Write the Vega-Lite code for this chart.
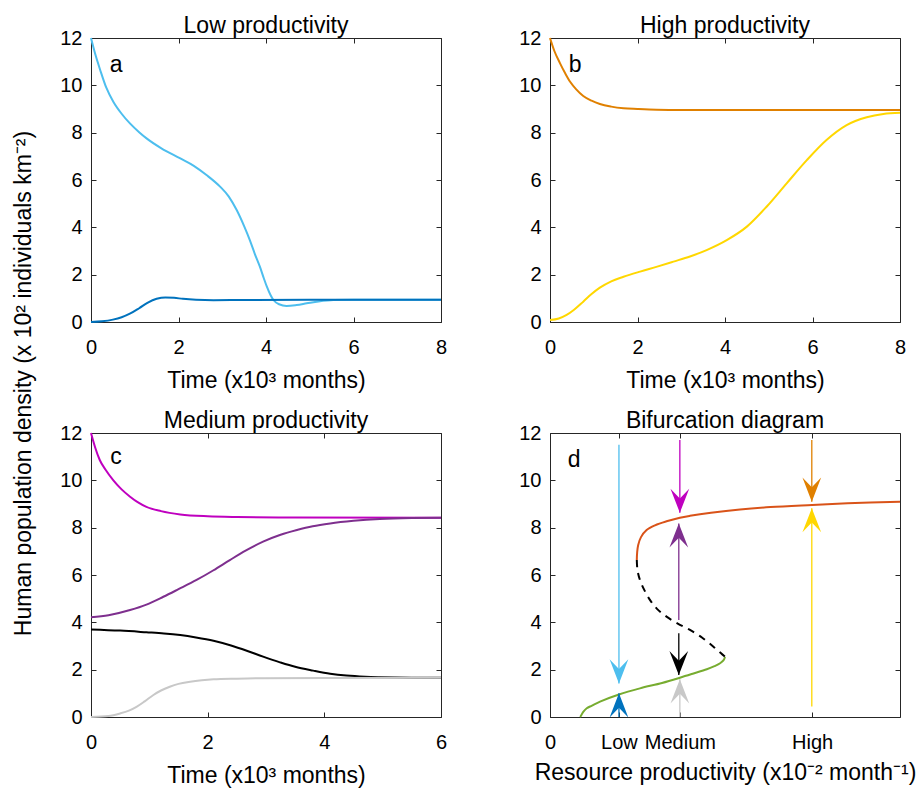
{
  "$schema": "https://vega.github.io/schema/vega-lite/v6.json",
  "padding": {"left": 11, "top": 14, "right": 5, "bottom": 5},
  "background": "white",
  "config": {
    "font": "Liberation Sans",
    "view": {"stroke": "#262626", "strokeWidth": 1},
    "axis": {"tickSize": -5, "labelPadding": 14, "grid": false, "domain": false, "labelFontSize": 20, "titleFontSize": 23, "titleFontWeight": "normal", "labelColor": "#000000", "titleColor": "#000000", "tickColor": "#262626", "labelFlush": false, "labelOverlap": false, "titleBaseline": "alphabetic"},
    "axisBottom": {"labelBaseline": "alphabetic", "labelPadding": 36},
    "title": {"fontSize": 23, "fontWeight": "normal", "offset": -10, "baseline": "alphabetic", "frame": "group", "anchor": "middle", "color": "#000000"}
  },
  "datasets": {
    "a": [
      {"s":"low_hi","t":0,"v":12},{"s":"low_hi","t":0.1,"v":11.3},{"s":"low_hi","t":0.21,"v":10.65},{"s":"low_hi","t":0.35,"v":9.9},{"s":"low_hi","t":0.51,"v":9.31},{"s":"low_hi","t":0.7,"v":8.8},{"s":"low_hi","t":0.89,"v":8.39},{"s":"low_hi","t":1.1,"v":8.02},{"s":"low_hi","t":1.27,"v":7.76},{"s":"low_hi","t":1.6,"v":7.35},{"s":"low_hi","t":2.03,"v":6.92},{"s":"low_hi","t":2.35,"v":6.6},{"s":"low_hi","t":2.64,"v":6.21},{"s":"low_hi","t":2.95,"v":5.72},{"s":"low_hi","t":3.15,"v":5.3},{"s":"low_hi","t":3.33,"v":4.73},{"s":"low_hi","t":3.5,"v":4.05},{"s":"low_hi","t":3.63,"v":3.46},{"s":"low_hi","t":3.75,"v":2.85},{"s":"low_hi","t":3.86,"v":2.34},{"s":"low_hi","t":3.95,"v":1.85},{"s":"low_hi","t":4.02,"v":1.49},{"s":"low_hi","t":4.1,"v":1.15},{"s":"low_hi","t":4.17,"v":0.93},{"s":"low_hi","t":4.3,"v":0.75},{"s":"low_hi","t":4.47,"v":0.68},{"s":"low_hi","t":4.7,"v":0.72},{"s":"low_hi","t":4.93,"v":0.79},{"s":"low_hi","t":5.2,"v":0.87},{"s":"low_hi","t":5.54,"v":0.93},{"s":"low_hi","t":6,"v":0.94},{"s":"low_hi","t":7,"v":0.94},{"s":"low_hi","t":8,"v":0.94},
      {"s":"low_lo","t":0,"v":0},{"s":"low_lo","t":0.25,"v":0.03},{"s":"low_lo","t":0.5,"v":0.1},{"s":"low_lo","t":0.7,"v":0.2},{"s":"low_lo","t":0.9,"v":0.36},{"s":"low_lo","t":1.1,"v":0.58},{"s":"low_lo","t":1.3,"v":0.82},{"s":"low_lo","t":1.5,"v":0.98},{"s":"low_lo","t":1.7,"v":1.04},{"s":"low_lo","t":1.9,"v":1.02},{"s":"low_lo","t":2.1,"v":0.98},{"s":"low_lo","t":2.4,"v":0.94},{"s":"low_lo","t":2.8,"v":0.92},{"s":"low_lo","t":3.5,"v":0.93},{"s":"low_lo","t":5,"v":0.94},{"s":"low_lo","t":8,"v":0.94}
    ],
    "b": [
      {"s":"high_hi","t":0,"v":12},{"s":"high_hi","t":0.1,"v":11.45},{"s":"high_hi","t":0.23,"v":10.93},{"s":"high_hi","t":0.35,"v":10.5},{"s":"high_hi","t":0.46,"v":10.15},{"s":"high_hi","t":0.6,"v":9.83},{"s":"high_hi","t":0.76,"v":9.55},{"s":"high_hi","t":0.95,"v":9.35},{"s":"high_hi","t":1.14,"v":9.21},{"s":"high_hi","t":1.4,"v":9.1},{"s":"high_hi","t":1.68,"v":9.03},{"s":"high_hi","t":2,"v":9.0},{"s":"high_hi","t":2.44,"v":8.97},{"s":"high_hi","t":3,"v":8.96},{"s":"high_hi","t":8,"v":8.96},
      {"s":"high_lo","t":0,"v":0.08},{"s":"high_lo","t":0.2,"v":0.15},{"s":"high_lo","t":0.38,"v":0.3},{"s":"high_lo","t":0.55,"v":0.52},{"s":"high_lo","t":0.76,"v":0.86},{"s":"high_lo","t":0.95,"v":1.18},{"s":"high_lo","t":1.14,"v":1.45},{"s":"high_lo","t":1.4,"v":1.72},{"s":"high_lo","t":1.68,"v":1.91},{"s":"high_lo","t":2.06,"v":2.13},{"s":"high_lo","t":2.45,"v":2.34},{"s":"high_lo","t":2.82,"v":2.55},{"s":"high_lo","t":3.2,"v":2.77},{"s":"high_lo","t":3.58,"v":3.04},{"s":"high_lo","t":4.04,"v":3.46},{"s":"high_lo","t":4.5,"v":4.03},{"s":"high_lo","t":4.95,"v":4.87},{"s":"high_lo","t":5.41,"v":5.86},{"s":"high_lo","t":5.87,"v":6.84},{"s":"high_lo","t":6.32,"v":7.69},{"s":"high_lo","t":6.78,"v":8.32},{"s":"high_lo","t":7.24,"v":8.65},{"s":"high_lo","t":7.62,"v":8.79},{"s":"high_lo","t":8,"v":8.84}
    ],
    "c": [
      {"s":"med_a","t":0,"v":12},{"s":"med_a","t":0.07,"v":11.4},{"s":"med_a","t":0.15,"v":10.86},{"s":"med_a","t":0.25,"v":10.45},{"s":"med_a","t":0.38,"v":10.01},{"s":"med_a","t":0.52,"v":9.63},{"s":"med_a","t":0.67,"v":9.31},{"s":"med_a","t":0.8,"v":9.08},{"s":"med_a","t":0.95,"v":8.88},{"s":"med_a","t":1.2,"v":8.7},{"s":"med_a","t":1.53,"v":8.56},{"s":"med_a","t":2,"v":8.48},{"s":"med_a","t":2.5,"v":8.45},{"s":"med_a","t":3.5,"v":8.43},{"s":"med_a","t":6,"v":8.42},
      {"s":"med_b","t":0,"v":4.21},{"s":"med_b","t":0.3,"v":4.3},{"s":"med_b","t":0.67,"v":4.52},{"s":"med_b","t":0.95,"v":4.75},{"s":"med_b","t":1.24,"v":5.08},{"s":"med_b","t":1.5,"v":5.4},{"s":"med_b","t":1.81,"v":5.79},{"s":"med_b","t":2.1,"v":6.2},{"s":"med_b","t":2.38,"v":6.63},{"s":"med_b","t":2.65,"v":7.03},{"s":"med_b","t":2.95,"v":7.41},{"s":"med_b","t":3.25,"v":7.7},{"s":"med_b","t":3.53,"v":7.9},{"s":"med_b","t":3.8,"v":8.06},{"s":"med_b","t":4.1,"v":8.18},{"s":"med_b","t":4.5,"v":8.29},{"s":"med_b","t":4.95,"v":8.37},{"s":"med_b","t":5.5,"v":8.41},{"s":"med_b","t":6,"v":8.42},
      {"s":"med_c","t":0,"v":3.7},{"s":"med_c","t":0.5,"v":3.65},{"s":"med_c","t":0.95,"v":3.58},{"s":"med_c","t":1.25,"v":3.53},{"s":"med_c","t":1.53,"v":3.46},{"s":"med_c","t":1.8,"v":3.36},{"s":"med_c","t":2.1,"v":3.22},{"s":"med_c","t":2.4,"v":3.02},{"s":"med_c","t":2.67,"v":2.8},{"s":"med_c","t":2.95,"v":2.55},{"s":"med_c","t":3.24,"v":2.31},{"s":"med_c","t":3.5,"v":2.12},{"s":"med_c","t":3.81,"v":1.96},{"s":"med_c","t":4.1,"v":1.83},{"s":"med_c","t":4.38,"v":1.75},{"s":"med_c","t":4.7,"v":1.7},{"s":"med_c","t":4.95,"v":1.68},{"s":"med_c","t":5.5,"v":1.66},{"s":"med_c","t":6,"v":1.66},
      {"s":"med_d","t":0,"v":0},{"s":"med_d","t":0.3,"v":0.04},{"s":"med_d","t":0.5,"v":0.15},{"s":"med_d","t":0.65,"v":0.27},{"s":"med_d","t":0.78,"v":0.43},{"s":"med_d","t":0.92,"v":0.66},{"s":"med_d","t":1.07,"v":0.93},{"s":"med_d","t":1.2,"v":1.12},{"s":"med_d","t":1.35,"v":1.28},{"s":"med_d","t":1.5,"v":1.4},{"s":"med_d","t":1.7,"v":1.49},{"s":"med_d","t":1.9,"v":1.55},{"s":"med_d","t":2.1,"v":1.59},{"s":"med_d","t":2.5,"v":1.62},{"s":"med_d","t":2.95,"v":1.64},{"s":"med_d","t":4,"v":1.65},{"s":"med_d","t":6,"v":1.66}
    ],
    "dcurve": [
      {"s":"upper","i":0,"x":2.48,"v":6.63},{"s":"upper","i":1,"x":2.49,"v":6.95},{"s":"upper","i":2,"x":2.52,"v":7.27},{"s":"upper","i":3,"x":2.6,"v":7.6},{"s":"upper","i":4,"x":2.76,"v":7.9},{"s":"upper","i":5,"x":3.0,"v":8.1},{"s":"upper","i":6,"x":3.33,"v":8.27},{"s":"upper","i":7,"x":3.71,"v":8.42},{"s":"upper","i":8,"x":4.0,"v":8.5},{"s":"upper","i":9,"x":4.6,"v":8.63},{"s":"upper","i":10,"x":5.43,"v":8.77},{"s":"upper","i":11,"x":6.3,"v":8.87},{"s":"upper","i":12,"x":7.49,"v":8.96},{"s":"upper","i":13,"x":8.5,"v":9.03},{"s":"upper","i":14,"x":10,"v":9.1},
      {"s":"unstable","i":0,"x":2.48,"v":6.63},{"s":"unstable","i":1,"x":2.5,"v":6.2},{"s":"unstable","i":2,"x":2.57,"v":5.79},{"s":"unstable","i":3,"x":2.7,"v":5.35},{"s":"unstable","i":4,"x":2.86,"v":4.94},{"s":"unstable","i":5,"x":3.05,"v":4.58},{"s":"unstable","i":6,"x":3.33,"v":4.24},{"s":"unstable","i":7,"x":3.65,"v":3.95},{"s":"unstable","i":8,"x":4.0,"v":3.68},{"s":"unstable","i":9,"x":4.35,"v":3.35},{"s":"unstable","i":10,"x":4.67,"v":2.97},{"s":"unstable","i":11,"x":4.88,"v":2.7},{"s":"unstable","i":12,"x":5.0,"v":2.55},
      {"s":"lower","i":0,"x":5.0,"v":2.55},{"s":"lower","i":1,"x":4.96,"v":2.4},{"s":"lower","i":2,"x":4.86,"v":2.27},{"s":"lower","i":3,"x":4.7,"v":2.15},{"s":"lower","i":4,"x":4.48,"v":2.02},{"s":"lower","i":5,"x":4.1,"v":1.84},{"s":"lower","i":6,"x":3.71,"v":1.66},{"s":"lower","i":7,"x":3.2,"v":1.44},{"s":"lower","i":8,"x":2.57,"v":1.21},{"s":"lower","i":9,"x":1.97,"v":0.95},{"s":"lower","i":10,"x":1.43,"v":0.65},{"s":"lower","i":11,"x":1.2,"v":0.48},{"s":"lower","i":12,"x":1.05,"v":0.37},{"s":"lower","i":13,"x":0.95,"v":0.22},{"s":"lower","i":14,"x":0.88,"v":0.04},{"s":"lower","i":15,"x":0.86,"v":0}
    ],
    "darrows": [
      {"s":"low_hi","x":1.97,"y1":11.5,"y2":1.42,"dir":"down"},
      {"s":"low_lo","x":1.97,"y1":0,"y2":1.0,"dir":"up"},
      {"s":"med_a","x":3.71,"y1":11.7,"y2":8.63,"dir":"down"},
      {"s":"med_b","x":3.68,"y1":4.1,"y2":8.18,"dir":"up"},
      {"s":"med_c","x":3.68,"y1":3.54,"y2":1.77,"dir":"down"},
      {"s":"med_d","x":3.71,"y1":0,"y2":1.59,"dir":"up"},
      {"s":"high_hi","x":7.48,"y1":11.7,"y2":9.1,"dir":"down"},
      {"s":"high_lo","x":7.48,"y1":0.44,"y2":8.82,"dir":"up"}
    ]
  },
  "concat": [
    {
      "width": 350, "height": 284,
      "title": {"text": "Low productivity"},
      "layer": [
        {"data": {"name": "a"}, "mark": {"type": "line", "strokeWidth": 2, "interpolate": "monotone"},
         "encoding": {
           "x": {"field": "t", "type": "quantitative", "scale": {"domain": [0, 8], "nice": false, "zero": false}, "axis": {"orient": "bottom", "values": [0,2,4,6,8], "title": "Time (x10³ months)", "titleY": 65}},
           "y": {"field": "v", "type": "quantitative", "scale": {"domain": [0, 12], "nice": false}, "axis": {"orient": "left", "values": [0,2,4,6,8,10,12], "title": "Human population density (x 10² individuals km⁻²)", "titleX": -61, "titleY": 345, "titleAngle": -90, "titleAlign": "center"}},
           "color": {"field": "s", "type": "nominal", "legend": null, "scale": {"domain": ["low_hi","low_lo","high_hi","high_lo","med_a","med_b","med_c","med_d","upper","unstable","lower"], "range": ["#4DBEEE","#0072BD","#E08000","#FFD700","#BF00BF","#7E2F8E","#000000","#C8C8C8","#D95319","#000000","#77AC30"]}}
         }},
        {"data": {"values": [{"t": 0.43, "v": 10.56, "lab": "a"}]}, "mark": {"type": "text", "align": "left", "baseline": "alphabetic", "fontSize": 23, "color": "#000000"},
         "encoding": {
           "x": {"field": "t", "type": "quantitative", "scale": {"domain": [0, 8], "nice": false, "zero": false}, "axis": {"orient": "top", "values": [0,2,4,6,8], "labels": false, "title": null}},
           "y": {"field": "v", "type": "quantitative", "scale": {"domain": [0, 12], "nice": false}, "axis": {"orient": "right", "values": [0,2,4,6,8,10,12], "labels": false, "title": null}},
           "text": {"field": "lab"}
         }}
      ]
    },
    {
      "width": 350, "height": 284,
      "title": {"text": "High productivity"},
      "layer": [
        {"data": {"name": "b"}, "mark": {"type": "line", "strokeWidth": 2, "interpolate": "monotone"},
         "encoding": {
           "x": {"field": "t", "type": "quantitative", "scale": {"domain": [0, 8], "nice": false, "zero": false}, "axis": {"orient": "bottom", "values": [0,2,4,6,8], "title": "Time (x10³ months)", "titleY": 65}},
           "y": {"field": "v", "type": "quantitative", "scale": {"domain": [0, 12], "nice": false}, "axis": {"orient": "left", "values": [0,2,4,6,8,10,12], "title": null}},
           "color": {"field": "s", "type": "nominal", "legend": null, "scale": {"domain": ["low_hi","low_lo","high_hi","high_lo","med_a","med_b","med_c","med_d","upper","unstable","lower"], "range": ["#4DBEEE","#0072BD","#E08000","#FFD700","#BF00BF","#7E2F8E","#000000","#C8C8C8","#D95319","#000000","#77AC30"]}}
         }},
        {"data": {"values": [{"t": 0.43, "v": 10.56, "lab": "b"}]}, "mark": {"type": "text", "align": "left", "baseline": "alphabetic", "fontSize": 23, "color": "#000000"},
         "encoding": {
           "x": {"field": "t", "type": "quantitative", "scale": {"domain": [0, 8], "nice": false, "zero": false}, "axis": {"orient": "top", "values": [0,2,4,6,8], "labels": false, "title": null}},
           "y": {"field": "v", "type": "quantitative", "scale": {"domain": [0, 12], "nice": false}, "axis": {"orient": "right", "values": [0,2,4,6,8,10,12], "labels": false, "title": null}},
           "text": {"field": "lab"}
         }}
      ]
    },
    {
      "width": 350, "height": 284,
      "title": {"text": "Medium productivity"},
      "layer": [
        {"data": {"name": "c"}, "mark": {"type": "line", "strokeWidth": 2, "interpolate": "monotone"},
         "encoding": {
           "x": {"field": "t", "type": "quantitative", "scale": {"domain": [0, 6], "nice": false, "zero": false}, "axis": {"orient": "bottom", "values": [0,2,4,6], "title": "Time (x10³ months)", "titleY": 65}},
           "y": {"field": "v", "type": "quantitative", "scale": {"domain": [0, 12], "nice": false}, "axis": {"orient": "left", "values": [0,2,4,6,8,10,12], "title": null}},
           "color": {"field": "s", "type": "nominal", "legend": null, "scale": {"domain": ["low_hi","low_lo","high_hi","high_lo","med_a","med_b","med_c","med_d","upper","unstable","lower"], "range": ["#4DBEEE","#0072BD","#E08000","#FFD700","#BF00BF","#7E2F8E","#000000","#C8C8C8","#D95319","#000000","#77AC30"]}}
         }},
        {"data": {"values": [{"t": 0.33, "v": 10.7, "lab": "c"}]}, "mark": {"type": "text", "align": "left", "baseline": "alphabetic", "fontSize": 23, "color": "#000000"},
         "encoding": {
           "x": {"field": "t", "type": "quantitative", "scale": {"domain": [0, 6], "nice": false, "zero": false}, "axis": {"orient": "top", "values": [0,2,4,6], "labels": false, "title": null}},
           "y": {"field": "v", "type": "quantitative", "scale": {"domain": [0, 12], "nice": false}, "axis": {"orient": "right", "values": [0,2,4,6,8,10,12], "labels": false, "title": null}},
           "text": {"field": "lab"}
         }}
      ]
    },
    {
      "width": 350, "height": 284,
      "title": {"text": "Bifurcation diagram"},
      "layer": [
        {"data": {"name": "dcurve"}, "transform": [{"filter": "datum.s != 'unstable'"}], "mark": {"type": "line", "strokeWidth": 2, "interpolate": "catmull-rom"},
         "encoding": {
           "x": {"field": "x", "type": "quantitative", "scale": {"domain": [0, 10], "nice": false, "zero": false}, "axis": {"orient": "bottom", "values": [0, 1.97, 3.71, 7.49], "labelExpr": "datum.value == 0 ? '0' : datum.value < 2.5 ? 'Low' : datum.value < 5 ? 'Medium' : 'High'", "title": "Resource productivity (x10⁻² month⁻¹)", "titleY": 62}},
           "y": {"field": "v", "type": "quantitative", "scale": {"domain": [0, 12], "nice": false}, "axis": {"orient": "left", "values": [0,2,4,6,8,10,12], "title": null}},
           "order": {"field": "i", "type": "quantitative"},
           "color": {"field": "s", "type": "nominal", "legend": null, "scale": {"domain": ["low_hi","low_lo","high_hi","high_lo","med_a","med_b","med_c","med_d","upper","unstable","lower"], "range": ["#4DBEEE","#0072BD","#E08000","#FFD700","#BF00BF","#7E2F8E","#000000","#C8C8C8","#D95319","#000000","#77AC30"]}}
         }},
        {"data": {"name": "dcurve"}, "transform": [{"filter": "datum.s == 'unstable'"}], "mark": {"type": "line", "strokeWidth": 2, "strokeDash": [7, 6], "color": "#000000", "interpolate": "catmull-rom"},
         "encoding": {
           "x": {"field": "x", "type": "quantitative", "axis": null},
           "y": {"field": "v", "type": "quantitative", "axis": null},
           "order": {"field": "i", "type": "quantitative"}
         }},
        {"data": {"name": "darrows"}, "mark": {"type": "rule", "strokeWidth": 1.3},
         "encoding": {
           "x": {"field": "x", "type": "quantitative", "axis": null},
           "y": {"field": "y1", "type": "quantitative", "axis": null},
           "y2": {"field": "y2"},
           "color": {"field": "s", "type": "nominal", "legend": null, "scale": {"domain": ["low_hi","low_lo","high_hi","high_lo","med_a","med_b","med_c","med_d","upper","unstable","lower"], "range": ["#4DBEEE","#0072BD","#E08000","#FFD700","#BF00BF","#7E2F8E","#000000","#C8C8C8","#D95319","#000000","#77AC30"]}}
         }},
        {"data": {"name": "darrows"}, "mark": {"type": "point", "filled": true, "size": 676, "opacity": 1, "strokeWidth": 0},
         "encoding": {
           "x": {"field": "x", "type": "quantitative", "axis": null},
           "y": {"field": "y2", "type": "quantitative", "axis": null},
           "shape": {"field": "dir", "type": "nominal", "legend": null, "scale": {"domain": ["down", "up"], "range": ["M0,0L-0.72,-1.85L0,-1.1L0.72,-1.85Z", "M0,0L-0.72,1.85L0,1.1L0.72,1.85Z"]}},
           "color": {"field": "s", "type": "nominal", "legend": null, "scale": {"domain": ["low_hi","low_lo","high_hi","high_lo","med_a","med_b","med_c","med_d","upper","unstable","lower"], "range": ["#4DBEEE","#0072BD","#E08000","#FFD700","#BF00BF","#7E2F8E","#000000","#C8C8C8","#D95319","#000000","#77AC30"]}}
         }},
        {"data": {"values": [{"x": 0.51, "v": 10.56, "lab": "d"}]}, "mark": {"type": "text", "align": "left", "baseline": "alphabetic", "fontSize": 23, "color": "#000000"},
         "encoding": {
           "x": {"field": "x", "type": "quantitative", "scale": {"domain": [0, 10], "nice": false, "zero": false}, "axis": {"orient": "top", "values": [0, 1.97, 3.71, 7.49], "labels": false, "title": null}},
           "y": {"field": "v", "type": "quantitative", "scale": {"domain": [0, 12], "nice": false}, "axis": {"orient": "right", "values": [0,2,4,6,8,10,12], "labels": false, "title": null}},
           "text": {"field": "lab"}
         }}
      ]
    }
  ],
  "columns": 2,
  "spacing": {"row": 111, "column": 109},
  "bounds": "flush"
}
